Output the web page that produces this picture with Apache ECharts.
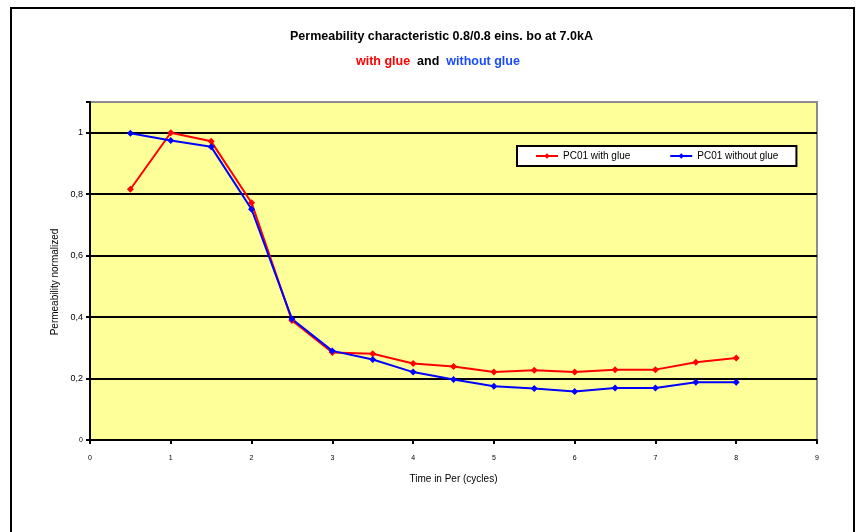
<!DOCTYPE html>
<html>
<head>
<meta charset="utf-8">
<script src="https://cdn.jsdelivr.net/npm/echarts@6/dist/echarts.min.js"></script>
<style>
html,body{margin:0;padding:0;background:#fff;}
#chart{width:857px;height:532px;}
</style>
</head>
<body>
<div id="chart"></div>
<script>
const cycles = [0.5, 1, 1.5, 2, 2.5, 3, 3.5, 4, 4.5, 5, 5.5, 6, 6.5, 7, 7.5, 8];
const withGlue = [0.816, 1.0, 0.972, 0.772, 0.389, 0.285, 0.281, 0.249, 0.239, 0.221, 0.227, 0.221, 0.229, 0.229, 0.253, 0.267];
const withoutGlue = [0.998, 0.975, 0.954, 0.751, 0.394, 0.290, 0.262, 0.221, 0.197, 0.175, 0.168, 0.158, 0.169, 0.169, 0.188, 0.188];
const seriesNames = ['PC01 with glue', 'PC01 without glue'];
const titleText = 'Permeability characteristic 0.8/0.8 eins. bo at 7.0kA';
const xAxisName = 'Time in Per (cycles)';
const yAxisName = 'Permeability normalized';

const FONT = '"Liberation Sans", Arial, sans-serif';
const chart = echarts.init(document.getElementById('chart'));
const pairs = arr => cycles.map((c, i) => [c, arr[i]]);

chart.setOption({
  backgroundColor: '#fff',
  animation: false,
  textStyle: { fontFamily: FONT },
  title: [
    { text: titleText, left: 285, top: 25,
      textStyle: { fontFamily: FONT, fontSize: 12.5, fontWeight: 'bold', color: '#000' } },
    { text: '{r|with glue}  {k|and}  {b|without glue}', left: 351, top: 50,
      textStyle: { fontFamily: FONT, fontSize: 12.5, fontWeight: 'bold',
        rich: {
          r: { color: '#ff0000', fontSize: 12.5, fontWeight: 'bold', fontFamily: FONT },
          k: { color: '#000', fontSize: 12.5, fontWeight: 'bold', fontFamily: FONT },
          b: { color: '#1a4cff', fontSize: 12.5, fontWeight: 'bold', fontFamily: FONT }
        } } }
  ],
  graphic: [
    { type: 'rect', shape: { x: 11, y: 8, width: 843, height: 600 },
      style: { fill: 'none', stroke: '#000', lineWidth: 2 }, z: 100 },
    { type: 'text', x: 55, y: 282, rotation: Math.PI / 2,
      style: { text: yAxisName, fontFamily: FONT, fontSize: 10, fill: '#000',
        align: 'center', verticalAlign: 'middle' } }
  ],
  legend: {
    left: 517, top: 146,
    padding: [5, 18, 5, 18],
    itemGap: 39, itemWidth: 22, itemHeight: 7,
    backgroundColor: '#fff', borderColor: '#000', borderWidth: 2,
    textStyle: { fontFamily: FONT, fontSize: 10, color: '#000' },
    data: seriesNames
  },
  grid: {
    left: 90, right: 40, top: 102, bottom: 92,
    show: true, backgroundColor: '#ffff99', borderColor: '#8c8c8c', borderWidth: 2
  },
  xAxis: {
    type: 'value', min: 0, max: 9, interval: 1,
    name: xAxisName, nameLocation: 'middle', nameGap: 34,
    nameTextStyle: { fontFamily: FONT, fontSize: 10, color: '#000' },
    axisLine: { show: true, lineStyle: { color: '#000', width: 2 } },
    axisTick: { show: true, length: 4, lineStyle: { color: '#000', width: 2 } },
    axisLabel: { fontFamily: FONT, fontSize: 7, color: '#000', margin: 15 },
    splitLine: { show: false }
  },
  yAxis: {
    type: 'value', min: 0, max: 1.1, interval: 0.2,
    axisLine: { show: true, lineStyle: { color: '#000', width: 2 } },
    axisTick: { show: true, length: 4, lineStyle: { color: '#000', width: 2 } },
    axisLabel: {
      fontFamily: FONT, fontSize: 9, color: '#000', margin: 7,
      formatter: v => {
        if (Math.abs(v - 1.1) < 1e-6) return '';
        if (v === 0) return '{z|0}';
        return String(+v.toFixed(1)).replace('.', ',');
      },
      rich: { z: { fontSize: 7, fontFamily: FONT, color: '#000' } }
    },
    splitLine: { show: true, lineStyle: {
      color: ['#000', '#000', '#000', '#000', '#000', '#000', '#8c8c8c'], width: 2 } }
  },
  series: [
    { name: seriesNames[0], type: 'line', data: pairs(withGlue),
      symbol: 'diamond', symbolSize: 7, showAllSymbol: true,
      lineStyle: { color: '#ff0000', width: 2 }, itemStyle: { color: '#ff0000' } },
    { name: seriesNames[1], type: 'line', data: pairs(withoutGlue),
      symbol: 'diamond', symbolSize: 7, showAllSymbol: true,
      lineStyle: { color: '#0000ff', width: 2 }, itemStyle: { color: '#0000ff' } }
  ]
});
</script>
</body>
</html>
